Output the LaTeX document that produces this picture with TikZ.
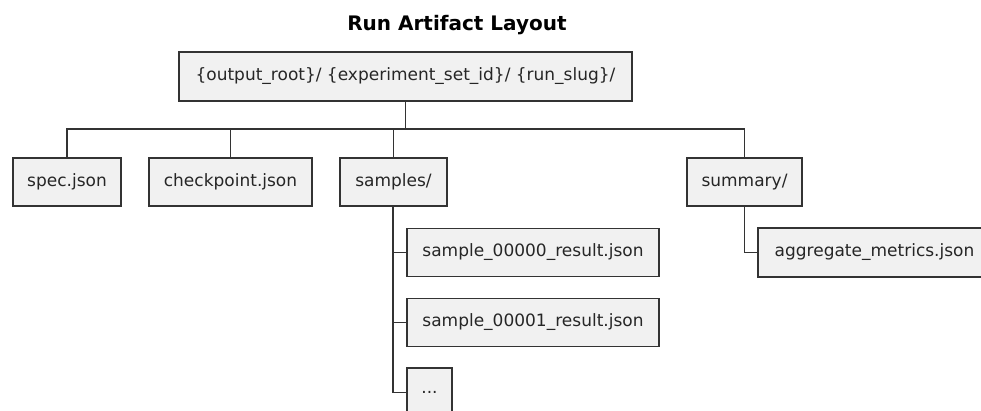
\documentclass[tikz,border=0pt]{standalone}
\usepackage{fontspec}
\setmainfont{DejaVu Sans}
\definecolor{boxfill}{HTML}{F1F1F1}
\definecolor{boxline}{HTML}{333333}

\begin{document}
\begin{tikzpicture}[x = 1pt, y = -1pt, line width = 1.5pt,
    every node/.style = {font = \fontsize{17}{20}\selectfont, text = black!85},
    entry/.style = {draw = boxline, fill = boxfill, minimum height = 48pt, inner sep = 0pt}]
        \clip (0,0) rectangle (981,411);
        \node[font = \fontsize{20}{24}\selectfont\bfseries, text = black] (title) at (457,25) {Run Artifact Layout};
        \node[entry, minimum width = 453pt, minimum height = 49pt] (root) at (405.5,76.5)
            {\{output\_root\}/ \{experiment\_set\_id\}/ \{run\_slug\}/};
        \node[entry, minimum width = 108pt] (spec) at (67,182) {spec.json};
        \node[entry, minimum width = 163pt] (checkpoint) at (230.5,182) {checkpoint.json};
        \node[entry, minimum width = 107pt] (samples) at (393.5,182) {samples/};
        \node[entry, minimum width = 115pt] (summary) at (744.5,182) {summary/};
        \node[entry, minimum width = 252pt] (sample0) at (533,252.5) {sample\_00000\_result.json};
        \node[entry, minimum width = 252pt] (sample1) at (533,322.5) {sample\_00001\_result.json};
        \node[entry, minimum width = 45pt, minimum height = 49pt] (more) at (429.5,392.5) {...};
        \node[entry, minimum width = 233pt, minimum height = 49pt] (aggregate) at (874.5,252.5) {aggregate\_metrics.json};
        \coordinate (bus) at (405.5,129);
        \draw[boxline] (root) -- (bus);
        \foreach \child in {spec, checkpoint, samples, summary}
            \draw[boxline] (bus) -| (\child.north);
        \foreach \child in {sample0, sample1, more}
            \draw[boxline] ([xshift = -0.5pt]samples.south) |- (\child.west);
        \draw[boxline] (summary.south) |- (aggregate.west);
\end{tikzpicture}
\end{document}
